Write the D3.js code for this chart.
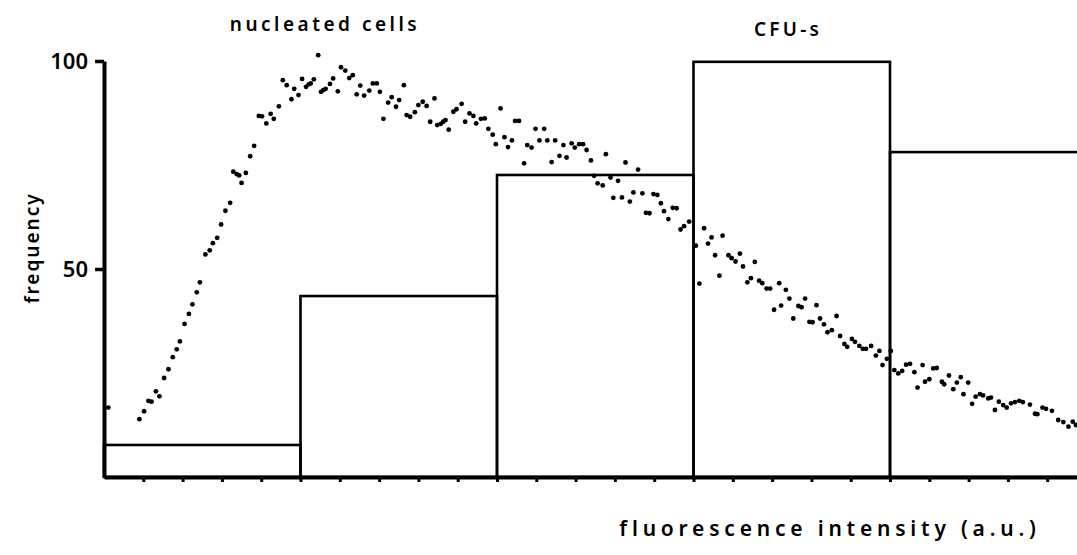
<!DOCTYPE html>
<html>
<head>
<meta charset="utf-8">
<script src="https://cdn.jsdelivr.net/npm/d3@7"></script>
<style>
    body { margin: 0; background: #fff; }
    svg { display: block; }
    .lbl { font-family: "Noto Sans", sans-serif; font-weight: 600; fill: #000; }
    .axis path, .axis line { stroke: #000; }
    .axis text { font-family: "Noto Sans", sans-serif; font-weight: 600; fill: #000; }
    .bar { fill: none; stroke: #000; stroke-width: 2.6; }
    .dot { fill: #000; }
</style>
</head>
<body>
<svg id="chart" width="1077" height="555"></svg>
<script>
// CFU-s histogram: bin edges (fluorescence channel) and frequency
const binEdges = [0, 50, 100, 150, 200, 250];
const binFreq = [7.7, 43.5, 72.6, 99.8, 78.1];

// nucleated cells profile (channel, frequency)
const cellChannel = [
    1.1, 9.0, 10.2, 11.3, 12.1, 13.2, 14.1, 15.3, 16.4, 17.5, 18.5, 19.3, 20.5, 21.6, 22.5, 23.6, 24.4,
    25.8, 26.9, 27.7, 28.8, 29.8, 30.9, 32.1, 32.9, 33.8, 34.4, 35.0, 36.1, 37.2, 38.2, 39.4, 40.2,
    41.3, 42.4, 43.2, 44.5, 45.5, 46.5, 47.7, 48.4, 49.5, 50.4, 51.4, 52.1, 52.6, 53.4, 54.5, 55.2,
    55.8, 56.4, 57.5, 58.3, 59.5, 60.3, 61.4, 62.4, 63.3, 64.3, 65.2, 66.2, 67.5, 68.4, 69.4, 70.2,
    71.1, 72.3, 73.2, 74.3, 75.1, 76.3, 77.0, 77.9, 79.1, 80.0, 81.1, 82.1, 83.0, 84.1, 84.8, 85.7,
    86.3, 86.9, 87.7, 88.9, 89.7, 91.0, 91.9, 93.0, 94.0, 94.7, 95.9, 96.9, 97.8, 98.9, 99.7, 100.9,
    101.9, 102.8, 103.8, 104.6, 105.6, 106.9, 107.7, 108.8, 109.8, 110.8, 112.0, 112.8, 113.9, 114.8,
    115.9, 116.9, 117.7, 119.0, 119.8, 120.9, 121.9, 122.8, 123.9, 124.7, 125.6, 126.9, 127.7, 128.9,
    129.6, 130.8, 131.8, 132.7, 133.8, 134.7, 135.9, 137.0, 137.9, 138.8, 139.8, 140.8, 141.7, 142.5,
    143.6, 144.7, 145.7, 146.7, 147.6, 148.9, 150.6, 151.5, 152.7, 153.7, 154.6, 155.5, 156.6, 157.4,
    158.9, 159.7, 160.7, 161.8, 162.6, 163.7, 164.6, 165.6, 166.7, 167.5, 168.6, 169.5, 170.5, 171.8,
    172.3, 173.5, 174.4, 175.4, 176.7, 177.5, 178.4, 179.5, 180.3, 181.3, 182.2, 183.2, 184.1, 185.2,
    186.4, 187.3, 188.4, 189.1, 190.3, 191.1, 192.2, 193.1, 193.9, 195.2, 196.4, 197.3, 198.1, 199.2,
    200.2, 201.1, 202.1, 203.1, 204.1, 205.1, 206.2, 207.0, 208.3, 208.9, 210.0, 211.0, 211.9, 213.2,
    213.8, 215.0, 216.1, 217.0, 218.0, 218.7, 219.9, 220.9, 221.8, 222.9, 223.7, 225.0, 225.7, 226.7,
    227.7, 228.8, 229.7, 230.8, 231.8, 232.9, 233.8, 235.6, 236.9, 237.5, 238.8, 239.7, 241.2, 242.8,
    244.1, 245.4, 246.5, 247.3
];
const cellFreq = [
    16.7, 13.9, 15.8, 18.3, 18.1, 20.6, 19.4, 23.8, 25.9, 28.8, 30.7, 32.6, 36.8, 39.2, 41.5, 44.4, 46.8,
    53.5, 54.5, 56.2, 57.5, 60.7, 64.0, 65.9, 73.4, 72.8, 72.5, 70.7, 73.1, 77.1, 79.6, 86.8, 86.7,
    85.0, 87.3, 86.1, 89.1, 95.4, 94.2, 90.8, 93.3, 91.8, 95.7, 93.8, 94.4, 94.6, 95.6, 101.4, 92.6,
    93.0, 93.3, 94.5, 95.8, 92.7, 98.5, 97.7, 95.9, 96.6, 92.0, 94.1, 91.7, 92.9, 94.6, 94.6, 92.6,
    86.1, 90.0, 91.3, 89.0, 90.6, 94.2, 87.0, 86.6, 87.7, 89.4, 90.2, 89.2, 85.4, 91.0, 84.6, 84.9,
    85.4, 85.8, 83.5, 87.8, 88.4, 89.7, 85.4, 87.4, 86.8, 85.0, 86.1, 86.2, 83.7, 82.3, 80.0, 88.6,
    81.7, 79.3, 80.9, 85.6, 85.6, 75.4, 79.8, 79.2, 83.7, 80.9, 83.7, 80.9, 75.7, 80.9,
    77.2, 79.8, 76.8, 80.2, 79.2, 80.0, 80.0, 78.6, 76.1, 72.4, 70.6, 70.1, 77.6, 72.0,
    67.1, 71.2, 67.2, 75.6, 66.2, 68.4, 73.9, 68.2, 63.5, 63.4, 68.0, 67.8, 65.8, 63.9,
    62.0, 64.7, 64.6, 59.5, 60.3, 61.4, 55.6, 46.5, 59.8, 56.1, 57.6, 53.3, 48.4, 58.0,
    53.3, 52.6, 51.8, 53.7, 50.6, 46.8, 47.8, 51.7, 47.2, 46.6, 45.3, 45.3, 40.2, 46.6,
    41.2, 45.0, 42.9, 38.1, 41.1, 40.8, 42.9, 37.3, 37.2, 41.3, 38.1, 36.7, 34.8, 35.3,
    38.7, 33.9, 32.0, 31.3, 33.2, 32.5, 31.5, 30.8, 30.8, 31.5, 29.2, 30.3, 26.9, 28.4,
    30.3, 25.7, 24.9, 25.5, 27.0, 27.2, 25.2, 21.5, 26.9, 22.9, 23.5, 26.1, 26.2, 22.9,
    22.3, 24.4, 21.1, 22.7, 24.0, 19.9, 22.7, 17.6, 19.3, 19.9, 19.6, 18.9, 19.1, 16.1,
    18.1, 17.3, 16.7, 17.7, 18.0, 18.3, 18.0, 17.4, 15.2, 15.1, 16.7, 16.4, 15.9, 13.7,
    13.2, 12.1, 13.3, 12.5
];

const yTicks = [50, 100];
const xTicks = d3.range(10, 250, 10);

const svg = d3.select('#chart');

let x = d3.scaleLinear().domain([0, 250]).range([104, 1086.5]);
let y = d3.scaleLinear().domain([0, 100]).range([477, 61]);

// Histogram bars (open boxes)
let bins = binFreq.map((f, i) => ({x0: binEdges[i], x1: binEdges[i + 1], f: f}));
svg.append('g').selectAll('rect')
    .data(bins)
    .enter()
    .append('rect')
    .classed('bar', true)
    .attr('x', d => x(d.x0))
    .attr('y', d => y(d.f))
    .attr('width', d => x(d.x1) - x(d.x0))
    .attr('height', d => y(0) - y(d.f));

// Dots
let pts = cellChannel.map((c, i) => ({c: c, f: cellFreq[i]}));
svg.append('g').selectAll('circle')
    .data(pts)
    .enter()
    .append('circle')
    .classed('dot', true)
    .attr('cx', d => x(d.c))
    .attr('cy', d => y(d.f))
    .attr('r', 2.4);

// x axis: small ticks, no labels
let xAxis = svg.append('g')
    .classed('axis', true)
    .attr('transform', 'translate(0,' + y(0) + ')')
    .call(d3.axisBottom(x).tickValues(xTicks).tickFormat('').tickSize(5).tickSizeOuter(0));
xAxis.select('.domain').attr('stroke-width', 4);
xAxis.selectAll('.tick line').attr('stroke-width', 3);

// y axis
let yAxis = svg.append('g')
    .classed('axis', true)
    .attr('transform', 'translate(' + x(0) + ',0)')
    .call(d3.axisLeft(y).tickValues(yTicks).tickSize(9).tickSizeOuter(0).tickPadding(7));
yAxis.select('.domain').attr('stroke-width', 4);
yAxis.selectAll('.tick line').attr('stroke-width', 3.5);
yAxis.selectAll('.tick text').attr('font-size', 22).attr('dy', '0.33em');

// Labels
svg.append('text').classed('lbl', true)
    .attr('x', 325).attr('y', 31)
    .attr('text-anchor', 'middle')
    .attr('font-size', 19).attr('letter-spacing', 3.5)
    .text('nucleated cells');

svg.append('text').classed('lbl', true)
    .attr('x', 788).attr('y', 36)
    .attr('text-anchor', 'middle')
    .attr('font-size', 19).attr('letter-spacing', 3.2)
    .text('CFU-s');

svg.append('text').classed('lbl', true)
    .attr('x', 830).attr('y', 536)
    .attr('text-anchor', 'middle')
    .attr('font-size', 21).attr('letter-spacing', 4.8)
    .text('fluorescence intensity (a.u.)');

svg.append('text').classed('lbl', true)
    .attr('transform', 'translate(39,248) rotate(-90)')
    .attr('text-anchor', 'middle')
    .attr('font-size', 19).attr('letter-spacing', 2)
    .text('frequency');
</script>
</body>
</html>
